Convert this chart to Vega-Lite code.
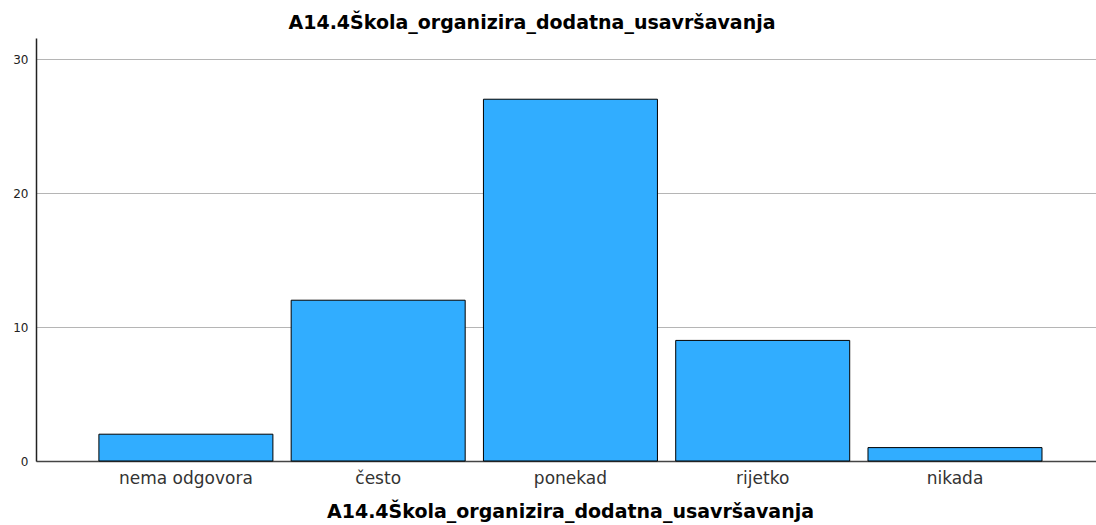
{
  "$schema": "https://vega.github.io/schema/vega-lite/v6.json",
  "autosize": "none",
  "padding": {"left": 36, "top": 38, "right": 0, "bottom": 64},
  "width": 1060,
  "height": 423,
  "background": "white",
  "title": {
    "text": "A14.4Škola_organizira_dodatna_usavršavanja",
    "font": "DejaVu Sans",
    "fontSize": 19,
    "fontWeight": "bold",
    "color": "#000000",
    "anchor": "middle",
    "dx": -34,
    "offset": 5
  },
  "data": {
    "values": [
      {"kategorija": "nema odgovora", "broj": 2},
      {"kategorija": "često", "broj": 12},
      {"kategorija": "ponekad", "broj": 27},
      {"kategorija": "rijetko", "broj": 9},
      {"kategorija": "nikada", "broj": 1}
    ]
  },
  "mark": {"type": "bar", "color": "#31adff", "stroke": "#000000", "strokeWidth": 1},
  "encoding": {
    "x": {
      "field": "kategorija",
      "type": "nominal",
      "sort": null,
      "scale": {"paddingInner": 0.095, "paddingOuter": 0.304, "align": 0.538},
      "axis": {
        "title": "A14.4Škola_organizira_dodatna_usavršavanja",
        "titleFont": "DejaVu Sans",
        "titleFontSize": 19,
        "titleFontWeight": "bold",
        "titleColor": "#000000",
        "titlePadding": 16,
        "titleX": 534,
        "labelAngle": 0,
        "labelFont": "DejaVu Sans",
        "labelFontSize": 17,
        "labelColor": "#333333",
        "labelPadding": 9,
        "ticks": false,
        "domainColor": "#444444",
        "domainWidth": 1.5
      }
    },
    "y": {
      "field": "broj",
      "type": "quantitative",
      "scale": {"domain": [0, 31.57], "nice": false},
      "axis": {
        "title": null,
        "values": [0, 10, 20, 30],
        "labelFont": "DejaVu Sans",
        "labelFontSize": 12,
        "labelColor": "#222222",
        "labelPadding": 8,
        "ticks": false,
        "grid": true,
        "gridColor": "#b5b5b5",
        "gridWidth": 1,
        "domainColor": "#222222",
        "domainWidth": 1.5
      }
    }
  },
  "config": {"view": {"stroke": null}}
}
